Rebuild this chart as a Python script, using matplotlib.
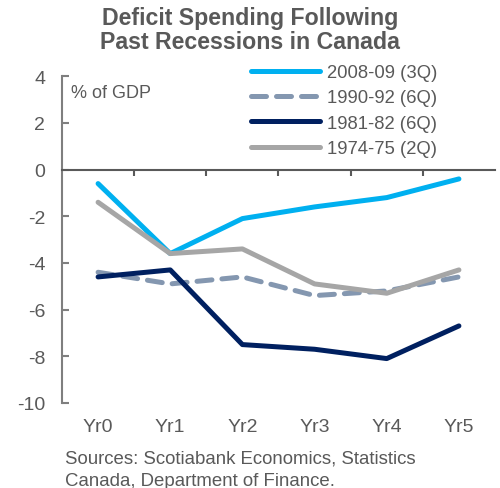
import numpy as np
import matplotlib
matplotlib.use('Agg')
import matplotlib.pyplot as plt

plt.rcParams['font.family'] = ['Liberation Sans', 'DejaVu Sans']
plt.rcParams['axes.unicode_minus'] = False

years = ['Yr0', 'Yr1', 'Yr2', 'Yr3', 'Yr4', 'Yr5']
rec_2008 = [-0.6, -3.6, -2.1, -1.6, -1.2, -0.4]
rec_1990 = [-4.4, -4.9, -4.6, -5.4, -5.2, -4.6]
rec_1981 = [-4.6, -4.3, -7.5, -7.7, -8.1, -6.7]
rec_1974 = [-1.4, -3.6, -3.4, -4.9, -5.3, -4.3]
yticks = [4, 2, 0, -2, -4, -6, -8, -10]

grey = '#595959'
x = np.arange(len(years))

fig = plt.figure(figsize=(5, 4.89), dpi=100)
ax = fig.add_axes([0.124, 0.174, 0.866, 0.668])

ax.plot(x, rec_2008, color='#00B0F0', lw=3.6, label='2008-09 (3Q)', solid_capstyle='round')
ax.plot(x, rec_1990, color='#8497B0', lw=3.6, ls=(0, (3, 2)), label='1990-92 (6Q)', dash_capstyle='round')
ax.plot(x, rec_1981, color='#002060', lw=3.6, label='1981-82 (6Q)', solid_capstyle='round')
ax.plot(x, rec_1974, color='#A6A6A6', lw=3.6, label='1974-75 (2Q)', solid_capstyle='round')

ax.set_xlim(-0.5, len(years) - 0.5)
ax.set_ylim(-10, 4)
ax.set_yticks(yticks)

# x axis drawn at zero, separators between categories
ax.spines['bottom'].set_position(('data', 0))
ax.spines['bottom'].set_color(grey)
ax.spines['bottom'].set_linewidth(1.5)
ax.set_xticks(x[:-1] + 0.5)
ax.set_xticklabels([])
ax.tick_params(axis='x', direction='out', length=4, width=1.5, color=grey)

# category labels below plot area
for xi, lab in zip(x, years):
    ax.text(xi, -0.045, lab, transform=ax.get_xaxis_transform(), ha='center', va='top',
            fontsize=14, color=grey)

for s in ['top', 'right']:
    ax.spines[s].set_visible(False)
ax.spines['left'].set_color('#7f7f7f')
ax.spines['left'].set_linewidth(1.5)
ax.tick_params(axis='y', direction='in', length=5, width=1.5, color='#7f7f7f',
               labelsize=14, labelcolor=grey, pad=12)

ax.text(0.02, 0.975, '% of GDP', transform=ax.transAxes, fontsize=13,
        color=grey, va='top', ha='left')

ax.legend(loc='upper left', bbox_to_anchor=(0.42, 1.06), frameon=False,
          fontsize=13.3, labelcolor=grey, handlelength=3.7, handletextpad=0.4,
          labelspacing=0.45, borderaxespad=0)

fig.text(0.5, 0.985, 'Deficit Spending Following\nPast Recessions in Canada',
         ha='center', va='top', fontsize=16.7, fontweight='bold', color=grey,
         linespacing=1.05)

fig.text(0.13, 0.038, 'Sources: Scotiabank Economics, Statistics\nCanada, Department of Finance.',
         ha='left', va='center', fontsize=13.4, color=grey, linespacing=1.4)

fig.savefig('out.png', dpi=100)
